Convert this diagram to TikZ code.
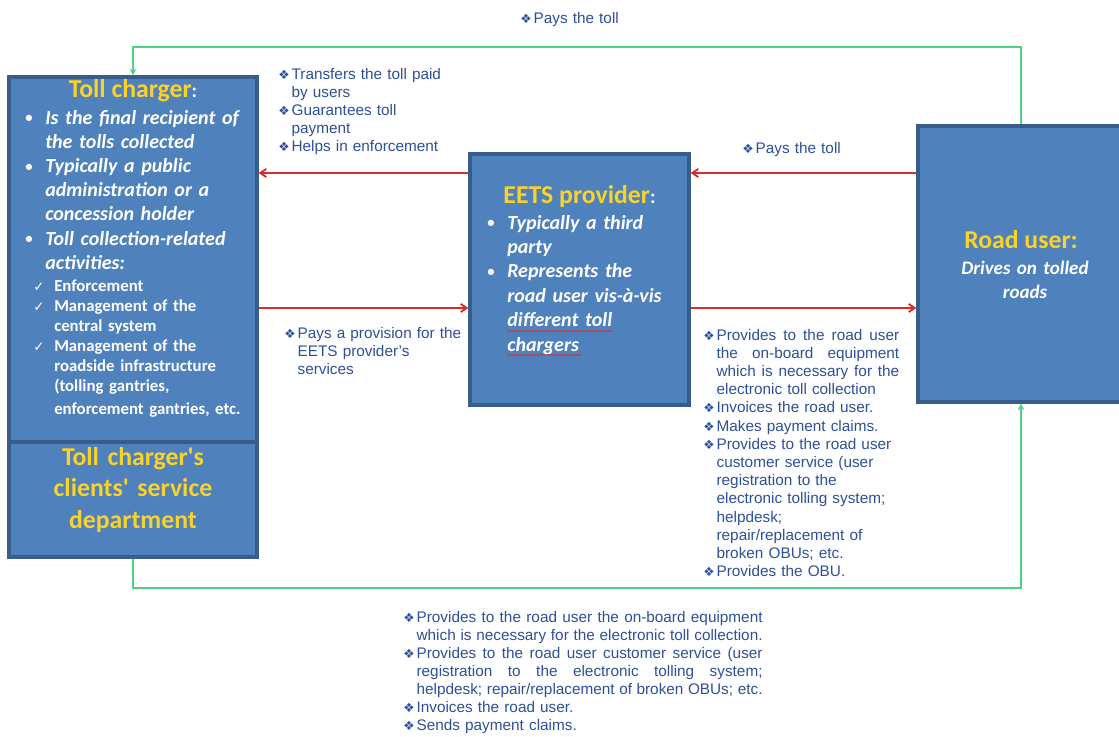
\documentclass[tikz,border=0pt]{standalone}
\usepackage{fontspec}
\setmainfont{Liberation Sans}
\newfontfamily\carl{Carlito}
\newfontfamily\dejav{DejaVu Sans}
\usetikzlibrary{arrows.meta,calc,decorations.pathmorphing}
\definecolor{boxfill}{RGB}{79,129,189}
\definecolor{boxline}{RGB}{56,93,138}
\definecolor{ttl}{RGB}{250,210,40}
\definecolor{anno}{RGB}{45,80,155}
\definecolor{redc}{RGB}{215,45,45}
\definecolor{greenc}{RGB}{80,210,130}
\newcommand{\dm}{\makebox[10pt][l]{\dejav\fontsize{9.5}{9.5}\selectfont ❖}}
\newcommand{\ind}{\hspace*{10pt}}
\newcommand{\js}[2]{\hbox to #1{\spaceskip=\fontdimen2\font plus 6em minus 0.06em\relax #2}}
\newcommand{\bu}{\makebox[15pt][l]{\upshape\fontsize{11}{11}\selectfont\raisebox{0.8pt}{•}}}
\newcommand{\bi}{\hspace*{15pt}}
\newcommand{\ck}{\makebox[15.75pt][l]{\dejav\fontsize{10}{10}\selectfont ✓}}
\newcommand{\ci}{\hspace*{15.75pt}}
\begin{document}
\begin{tikzpicture}[x=0.75pt,y=-0.75pt,
  box/.style={draw=boxline, fill=boxfill, line width=2.4pt, inner sep=0pt},
  annot/.style={anchor=base west, inner sep=0pt, text width=#1, align=left, text=anno, font=\fontsize{11.5}{13.5}\selectfont},
  ttlfont/.style={inner sep=0pt, text=ttl, font=\carl\bfseries\fontsize{19.3}{23.8}\selectfont},
  bodyfont/.style={anchor=base west, inner sep=0pt, text width=#1, align=left, text=white, font=\carl\bfseries\itshape\fontsize{15}{18.15}\selectfont},
  redarr/.style={draw=redc, line width=1.4pt, -{Straight Barb[length=4.5pt,width=6pt]}},
  greenarr/.style={draw=greenc, line width=1.4pt, -{Stealth[length=5pt,width=5pt]}},
  squig/.style={draw=redc, line width=0.5pt, decorate, decoration={snake, amplitude=0.6pt, segment length=3pt}}]
\useasboundingbox (0,0) rectangle (1119,736);
\fill[white] (0,0) rectangle (1119,736);
\begin{scope}
\clip (0,0) rectangle (1119,736);
% boxes
\node[box, minimum width=186pt, minimum height=273.75pt] (tc) at (133,259.5) {};
\node[box, minimum width=186pt, minimum height=86.25pt] (tcs) at (133,499.5) {};
\node[box, minimum width=164.25pt, minimum height=188.25pt] (eets) at (579.5,279.5) {};
\node[box, minimum width=154.5pt, minimum height=207pt] (ru) at (1021,264) {};
\end{scope}
% connectors
\draw[redarr] (eets.west |- 0,173) -- (tc.east |- 0,173);
\draw[redarr] (ru.west |- 0,173) -- (eets.east |- 0,173);
\draw[redarr] (tc.east |- 0,308) -- (eets.west |- 0,308);
\draw[redarr] (eets.east |- 0,308) -- (ru.west |- 0,308);
\draw[greenarr] (ru.north) -- (ru.north |- 0,47) -| (tc.north);
\draw[greenarr] (tcs.south) -- (tcs.south |- 0,588) -| (ru.south);
% toll charger texts
\node[ttlfont, anchor=base] (tct) at (133,97) {Toll charger\textcolor{white}{\fontsize{15}{18}\selectfont:}};
\node[bodyfont=220pt] (tcb) at (25,124) {\bu Is the final recipient of\\\bi the tolls collected\\\bu Typically a public\\\bi administration or a\\\bi concession holder\\\bu Toll collection-related\\\bi activities:};
\node[anchor=base west, inner sep=0pt, text width=220pt, align=left, text=white, font=\carl\bfseries\fontsize{12.6}{15}\selectfont] (tcc) at (33,291) {\ck Enforcement\\\ck Management of the\\\ci central system\\\ck Management of the\\\ci roadside infrastructure\\\ci (tolling gantries,\\[2.25pt]\ci enforcement gantries, etc.};
\node[ttlfont, anchor=base, text width=180pt, align=center] (tcst) at (133,465) {Toll charger's\\clients' service\\department};
% EETS texts
\node[ttlfont, anchor=base] (eetst) at (579.5,203) {EETS provider\textcolor{white}{\fontsize{15}{18}\selectfont:}};
\node[bodyfont=160pt, font=\carl\bfseries\itshape\fontsize{15}{18.3}\selectfont] (eetsb) at (487,229) {\bu Typically a third\\\bi party\\\bu Represents the\\\bi road user vis-à-vis\\\bi different toll\\\bi chargers};
\draw[squig] (507,331) -- (613,331);
\draw[squig] (507,355) -- (582,355);
% road user texts
\node[ttlfont, anchor=base] (rut) at (1021,248) {Road user:};
\node[anchor=base, inner sep=0pt, text width=150pt, align=center, text=white, font=\carl\bfseries\itshape\fontsize{14.3}{18}\selectfont] (rub) at (1025,274) {Drives on tolled\\roads};
% annotations
\node[annot=120pt] (a1) at (520,23) {\dm Pays the toll};
\node[annot=150pt] (a2) at (278,79) {\dm Transfers the toll paid\\\ind by users\\\dm Guarantees toll\\\ind payment\\\dm Helps in enforcement};
\node[annot=120pt] (a3) at (742,153) {\dm Pays the toll};
\node[annot=150pt] (a4) at (284,338) {\dm Pays a provision for the\\\ind EETS provider's\\\ind services};
\node[annot=150pt, font=\fontsize{11.5}{13.65}\selectfont] (a5) at (703,340) {\dm\js{137pt}{Provides to the road user}\\\ind\js{137pt}{the on-board equipment}\\\ind\js{137pt}{which is necessary for the}\\\ind electronic toll collection\\\dm Invoices the road user.\\\dm Makes payment claims.\\\dm Provides to the road user\\\ind customer service (user\\\ind registration to the\\\ind electronic tolling system;\\\ind helpdesk;\\\ind repair/replacement of\\\ind broken OBUs; etc.\\\dm Provides the OBU.};
\node[annot=275pt, font=\fontsize{11.5}{13.6}\selectfont] (a6) at (403,622) {\dm\js{259.5pt}{Provides to the road user the on-board equipment}\\\ind\js{259.5pt}{which is necessary for the electronic toll collection.}\\\dm\js{259.5pt}{Provides to the road user customer service (user}\\\ind\js{259.5pt}{registration to the electronic tolling system;}\\\ind\js{259.5pt}{helpdesk; repair/replacement of broken OBUs; etc.}\\\dm Invoices the road user.\\\dm Sends payment claims.};
\end{tikzpicture}
\end{document}
